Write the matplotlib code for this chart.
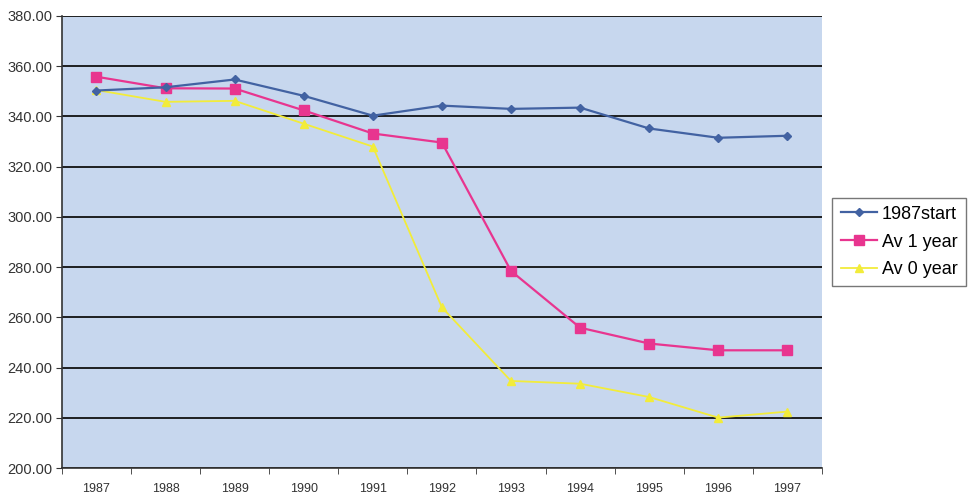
import matplotlib
matplotlib.use('Agg')
import numpy as np
import matplotlib.pyplot as plt

plt.rcParams['font.family'] = ['Liberation Sans', 'DejaVu Sans']

# Data
years = ['1987', '1988', '1989', '1990', '1991', '1992', '1993', '1994', '1995', '1996', '1997']
start_1987 = [350.3, 351.6, 354.7, 348.2, 340.3, 344.3, 343.0, 343.5, 335.2, 331.5, 332.3]
av_1_year = [355.8, 351.2, 351.1, 342.4, 333.2, 329.6, 278.5, 255.9, 249.6, 246.9, 246.9]
av_0_year = [350.5, 345.8, 346.2, 337.1, 328.0, 264.0, 234.7, 233.6, 228.3, 220.1, 222.5]

fig = plt.figure(figsize=(9.68, 4.98), dpi=100)
ax = fig.add_axes([0.064, 0.060, 0.785, 0.908])
ax.set_facecolor('#c7d7ee')

x = np.arange(len(years))
ax.plot(x, start_1987, color='#4262a2', lw=1.6, marker='D', ms=4.5, label='1987start', zorder=4)
ax.plot(x, av_1_year, color='#e8358f', lw=1.6, marker='s', ms=6.5, label='Av 1 year', zorder=3)
ax.plot(x, av_0_year, color='#f2ec3a', lw=1.3, marker='^', ms=5.5, label='Av 0 year', zorder=2)

ax.set_xlim(-0.5, len(years) - 0.5)
ax.set_ylim(200, 380)
ax.set_yticks(np.arange(200, 381, 20))
ax.set_yticklabels([f'{v:.2f}' for v in np.arange(200, 381, 20)], fontsize=10.5, color='#333333')
ax.set_xticks(x)
ax.set_xticklabels(years, fontsize=9, color='#333333')
ax.set_xticks(np.arange(-0.5, len(years), 1), minor=True)
ax.tick_params(axis='x', which='major', length=0, pad=11)
ax.tick_params(axis='x', which='minor', length=4, color='#333333')
ax.tick_params(axis='y', length=4, color='#333333', pad=3)

ax.grid(axis='y', color='#111111', lw=1.3)
ax.set_axisbelow(True)
for side in ['top', 'right']:
    ax.spines[side].set_visible(False)
for side in ['left', 'bottom']:
    ax.spines[side].set_color('#333333')
    ax.spines[side].set_linewidth(1.2)

leg = ax.legend(loc='center left', bbox_to_anchor=(1.014, 0.5), borderaxespad=0, fontsize=13,
                frameon=True, fancybox=False, edgecolor='#555555', borderpad=0.45,
                labelspacing=0.6, handlelength=2.0, handletextpad=0.3)
leg.get_frame().set_linewidth(1.0)

fig.savefig('out.png', dpi=100)
